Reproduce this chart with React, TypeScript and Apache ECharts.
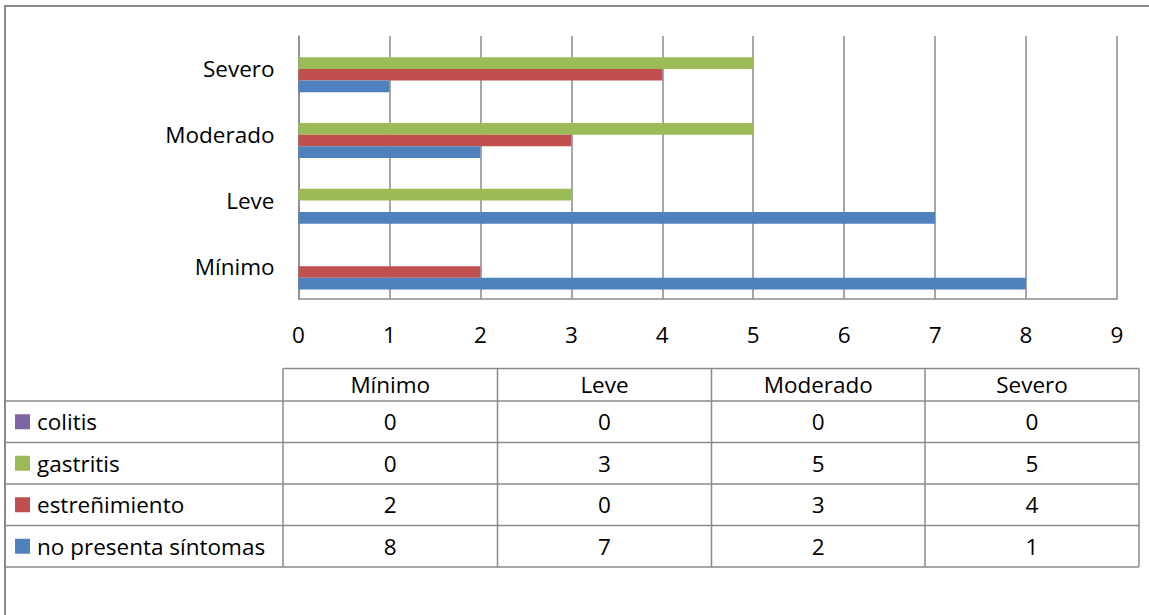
import React, { useEffect, useRef } from "react";
import * as echarts from "echarts";

// Severity levels (category axis, bottom to top)
const categories = ["Mínimo", "Leve", "Moderado", "Severo"];

// Counts per severity level for each symptom group
const colitis = [0, 0, 0, 0];
const gastritis = [0, 3, 5, 5];
const estrenimiento = [2, 0, 3, 4];
const noPresenta = [8, 7, 2, 1];

const seriesNames = ["colitis", "gastritis", "estreñimiento", "no presenta síntomas"];
const seriesColors = ["#8064A2", "#9BBB59", "#C0504D", "#4F81BD"];

const FONT = "Open Sans";
const FS = 22.5;
const LINE = "#8a8a8a";

export default function App() {
  const ref = useRef<HTMLDivElement>(null);

  useEffect(() => {
    if (!ref.current) return;
    const chart = echarts.init(ref.current, null, { renderer: "svg" });

    const seriesData = [colitis, gastritis, estrenimiento, noPresenta];

    // Data table geometry
    const colX = [283, 497.5, 711.5, 925, 1139];
    const rowY = [368.5, 401, 442.5, 484, 525.5, 567];
    const leftX = 5;

    const graphics: any[] = [];
    // Outer chart frame
    graphics.push({
      type: "rect",
      shape: { x: 5, y: 6, width: 1200, height: 700 },
      style: { fill: "none", stroke: LINE, lineWidth: 2 },
      silent: true,
    });
    // Header top line
    graphics.push({
      type: "line",
      shape: { x1: colX[0], y1: rowY[0], x2: colX[4], y2: rowY[0] },
      style: { stroke: LINE, lineWidth: 1.5 },
    });
    // Row lines
    for (let r = 1; r < rowY.length; r++) {
      graphics.push({
        type: "line",
        shape: { x1: leftX, y1: rowY[r], x2: colX[4], y2: rowY[r] },
        style: { stroke: LINE, lineWidth: 1.5 },
      });
    }
    // Column lines
    for (let c = 0; c < colX.length; c++) {
      graphics.push({
        type: "line",
        shape: { x1: colX[c], y1: rowY[0], x2: colX[c], y2: rowY[5] },
        style: { stroke: LINE, lineWidth: 1.5 },
      });
    }
    // Header labels
    categories.forEach((cat, i) => {
      graphics.push({
        type: "text",
        x: (colX[i] + colX[i + 1]) / 2,
        y: (rowY[0] + rowY[1]) / 2,
        style: {
          text: cat,
          align: "center",
          verticalAlign: "middle",
          fontFamily: FONT,
          fontSize: FS,
          fill: "#000",
        },
      });
    });
    // Legend keys, names and values
    seriesNames.forEach((name, r) => {
      const cy = (rowY[r + 1] + rowY[r + 2]) / 2;
      graphics.push({
        type: "rect",
        shape: { x: 15, y: cy - 7.5, width: 15, height: 15 },
        style: { fill: seriesColors[r] },
      });
      graphics.push({
        type: "text",
        x: 37,
        y: cy,
        style: {
          text: name,
          align: "left",
          verticalAlign: "middle",
          fontFamily: FONT,
          fontSize: FS,
          fill: "#000",
        },
      });
      seriesData[r].forEach((v, c) => {
        graphics.push({
          type: "text",
          x: (colX[c] + colX[c + 1]) / 2,
          y: cy,
          style: {
            text: String(v),
            align: "center",
            verticalAlign: "middle",
            fontFamily: FONT,
            fontSize: FS,
            fill: "#000",
          },
        });
      });
    });

    // First series sits at the top of each category band
    const series = seriesNames.map((name, i) => ({
      name,
      type: "bar",
      data: seriesData[i],
      itemStyle: { color: seriesColors[i] },
      barGap: "0%",
      barCategoryGap: "29%",
      silent: true,
    }));

    chart.setOption({
      animation: false,
      backgroundColor: "#fff",
      textStyle: { fontFamily: FONT },
      grid: { left: 298.5, top: 36, right: 1149 - 1117, bottom: 615 - 299, containLabel: false },
      xAxis: {
        type: "value",
        min: 0,
        max: 9,
        interval: 1,
        axisLine: { show: true, lineStyle: { color: LINE, width: 1.5 } },
        axisTick: { show: false },
        splitLine: { show: true, lineStyle: { color: LINE, width: 1.5 } },
        axisLabel: { color: "#000", fontSize: FS, fontFamily: FONT, margin: 24 },
      },
      yAxis: {
        type: "category",
        data: categories,
        axisLine: { show: true, lineStyle: { color: LINE, width: 1.5 } },
        axisTick: { show: false },
        splitLine: { show: false },
        axisLabel: { color: "#000", fontSize: FS, fontFamily: FONT, margin: 24 },
      },
      series,
      graphic: { elements: graphics },
    });

    return () => chart.dispose();
  }, []);

  return (
    <div
      ref={ref}
      style={{ position: "fixed", left: 0, top: 0, width: 1149, height: 615, background: "#fff" }}
    />
  );
}
